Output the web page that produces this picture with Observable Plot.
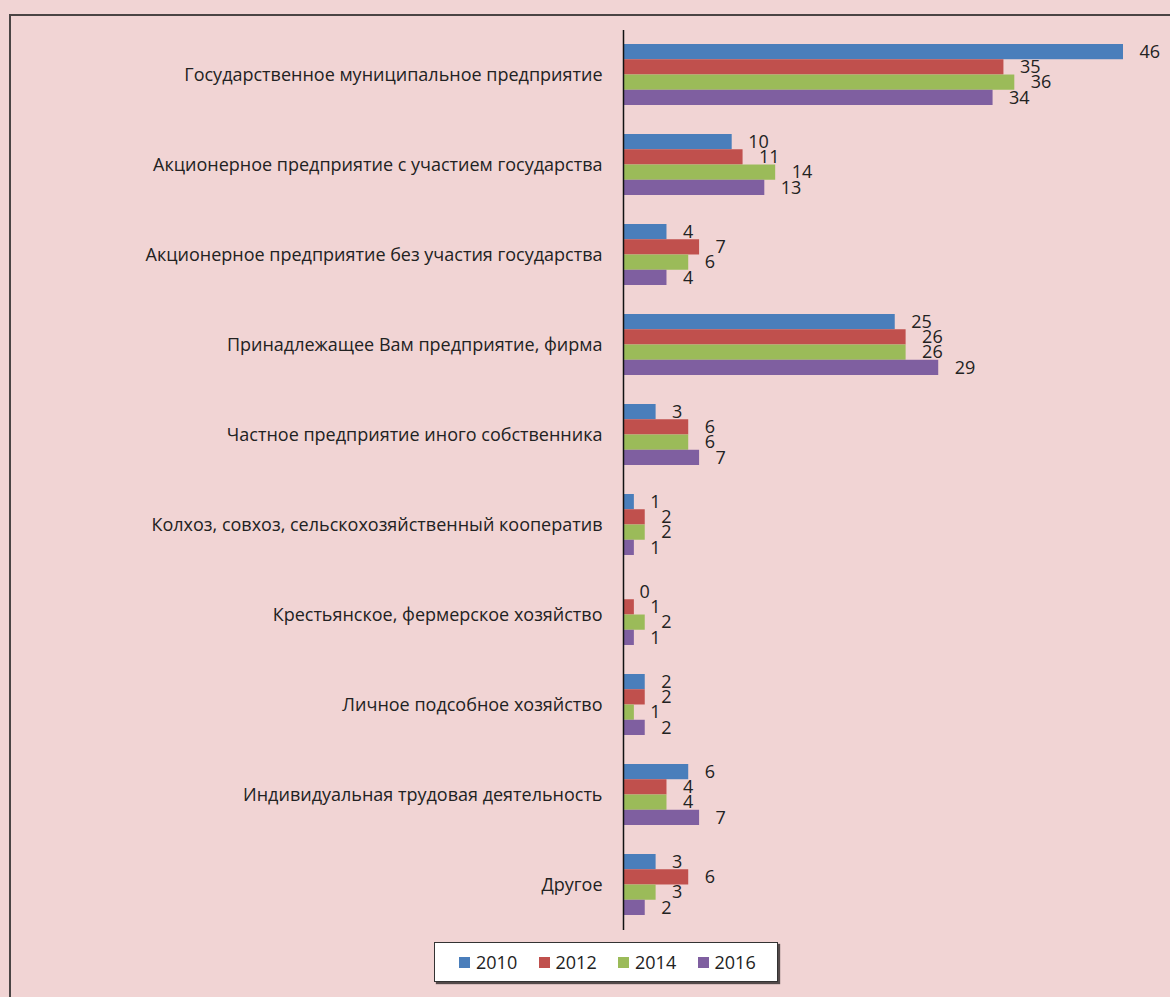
<!DOCTYPE html>
<html>
<head>
<meta charset="utf-8">
<script src="https://cdn.jsdelivr.net/npm/d3@7"></script>
<script src="https://cdn.jsdelivr.net/npm/@observablehq/plot@0.6"></script>
<style>
  html, body { margin: 0; padding: 0; background: #F1D4D4; width: 1170px; height: 997px; overflow: hidden; font-family: "Open Sans", sans-serif; }
  #frame { position: absolute; left: 9px; top: 14px; right: -5px; bottom: -5px; border-top: 2px solid #4a4444; border-left: 2px solid #4a4444; }
  #chart { position: absolute; left: 0; top: 0; }
  #legend { position: absolute; left: 434px; top: 942px; width: 344px; height: 40px; background: #fff; border: 1px solid #333; box-shadow: 2px 2px 1px rgba(0,0,0,0.65); display: flex; align-items: center; box-sizing: border-box; padding-left: 24px; }
  .item { display: flex; align-items: center; width: 82px; font-size: 18px; color: #222; }
  .sw { width: 11px; height: 11px; margin-right: 6px; }
</style>
</head>
<body>
<div id="frame"></div>
<div id="chart"></div>
<div id="legend"></div>
<script>
const categories = [
  "Государственное муниципальное предприятие",
  "Акционерное предприятие с участием государства",
  "Акционерное предприятие без участия государства",
  "Принадлежащее Вам предприятие, фирма",
  "Частное предприятие иного собственника",
  "Колхоз, совхоз, сельскохозяйственный кооператив",
  "Крестьянское, фермерское хозяйство",
  "Личное подсобное хозяйство",
  "Индивидуальная трудовая деятельность",
  "Другое"
];
const years = ["2010", "2012", "2014", "2016"];
const v2010 = [46, 10, 4, 25, 3, 1, 0, 2, 6, 3];
const v2012 = [35, 11, 7, 26, 6, 2, 1, 2, 4, 6];
const v2014 = [36, 14, 6, 26, 6, 2, 2, 1, 4, 3];
const v2016 = [34, 13, 4, 29, 7, 1, 1, 2, 7, 2];
const colors = ["#4A7EBB", "#C0504D", "#9BBB59", "#7F5FA0"];

const series = [v2010, v2012, v2014, v2016];

const W = 1170, H = 935, mT = 30, mB = 5, mL = 623, mR = 47;
const pI = 0.322, pO = 0.16;
const step = (H - mT - mB) / (categories.length - pI + 2 * pO);
const bw = step * (1 - pI);
const sub = bw / 4;

const marks = [];
series.forEach((vals, i) => {
  const rows = categories.map((c, j) => ({cat: c, value: vals[j]}));
  marks.push(Plot.barX(rows, {
    x: "value", y: "cat", fill: colors[i],
    insetTop: i * sub, insetBottom: (3 - i) * sub
  }));
  marks.push(Plot.text(rows, {
    x: "value", y: "cat", text: d => String(d.value),
    dx: 16, dy: -bw / 2 + (i + 0.5) * sub, textAnchor: "start",
    fill: "#222", fontSize: 18
  }));
});
marks.push(Plot.ruleX([0], {stroke: "#111", strokeWidth: 1.5}));
marks.push(Plot.axisY({tickSize: 0, tickPadding: 21, fontSize: 18, color: "#222", label: null}));

const chart = Plot.plot({
  width: W, height: H,
  marginTop: mT, marginBottom: mB, marginLeft: mL, marginRight: mR,
  style: {background: "transparent", fontFamily: "Open Sans, sans-serif", color: "#222"},
  x: {domain: [0, 46], axis: null},
  y: {domain: categories, paddingInner: pI, paddingOuter: pO, axis: null},
  marks
});
document.getElementById("chart").appendChild(chart);

const legend = document.getElementById("legend");
years.forEach((y, i) => {
  const it = document.createElement("div");
  it.className = "item";
  it.innerHTML = `<span class="sw" style="background:${colors[i]}"></span><span>${y}</span>`;
  legend.appendChild(it);
});
</script>
</body>
</html>
